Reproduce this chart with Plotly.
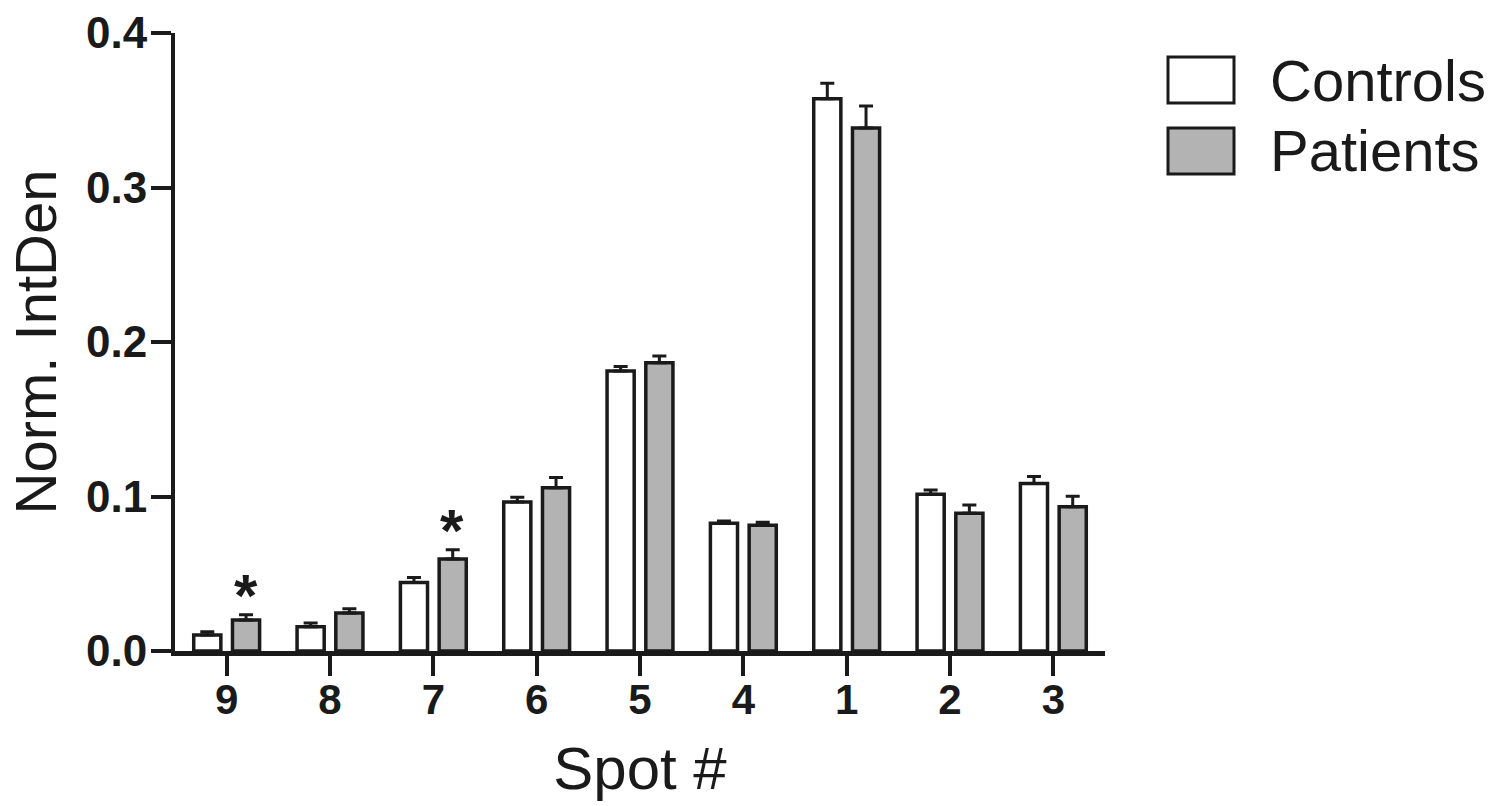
import plotly.graph_objects as go

spots = ["9", "8", "7", "6", "5", "4", "1", "2", "3"]
controls = [0.0103, 0.0157, 0.0444, 0.0965, 0.1812, 0.0827, 0.3575, 0.1015, 0.1084]
controls_err = [0.0022, 0.0024, 0.0032, 0.0030, 0.0030, 0.0015, 0.0100, 0.0027, 0.0045]
patients = [0.0200, 0.0246, 0.0595, 0.1056, 0.1866, 0.0814, 0.3385, 0.0891, 0.0933]
patients_err = [0.0035, 0.0028, 0.0060, 0.0067, 0.0043, 0.0020, 0.0143, 0.0054, 0.0069]
significant = ["9", "7"]
series_names = ["Controls", "Patients"]
y_ticks = [0.0, 0.1, 0.2, 0.3, 0.4]

FONT = "Liberation Sans, Arial, sans-serif"
W, H = 1494, 806
L, R, T, B = 175, 1105, 33, 651
EDGE = "#1a1a1a"
GRAY = "#b3b3b3"

fig = go.Figure()
for name, vals, errs, color in [
    (series_names[0], controls, controls_err, "white"),
    (series_names[1], patients, patients_err, GRAY),
]:
    fig.add_trace(go.Bar(
        x=spots, y=vals, name=name,
        marker=dict(color=color, line=dict(color=EDGE, width=3.5)),
        error_y=dict(type="data", array=errs, arrayminus=[0] * len(errs),
                     symmetric=False, color=EDGE, thickness=3, width=7),
        showlegend=False,
    ))

# significance asterisks above patient bars
for s in significant:
    i = spots.index(s)
    fig.add_annotation(x=i, y=patients[i] + patients_err[i], xref="x", yref="y",
                       text="*", showarrow=False, xshift=19, yanchor="bottom",
                       yshift=-16, font=dict(family=FONT, size=60, color=EDGE, weight="bold"))

# custom legend
def px_x(p):
    return (p - L) / (R - L)

def px_y(p):
    return (B - p) / (B - T)

legend_rows = [(series_names[0], "white", 57, 103), (series_names[1], GRAY, 128, 174)]
for name, color, top, bot in legend_rows:
    fig.add_shape(type="rect", xref="paper", yref="paper",
                  x0=px_x(1168), x1=px_x(1234), y0=px_y(bot), y1=px_y(top),
                  fillcolor=color, line=dict(color=EDGE, width=3))
    fig.add_annotation(xref="paper", yref="paper", x=px_x(1268), y=px_y((top + bot) / 2),
                       text=name, showarrow=False, xanchor="left", yanchor="middle",
                       font=dict(family=FONT, size=58, color=EDGE))

fig.update_layout(
    width=W, height=H,
    margin=dict(l=L, r=W - R, t=T, b=H - B, autoexpand=False),
    paper_bgcolor="white", plot_bgcolor="white",
    barmode="group", bargap=0.25, bargroupgap=0.3,
    font=dict(family=FONT, color=EDGE),
)
fig.update_xaxes(
    type="category", range=[-0.5, 8.5],
    showline=True, linecolor=EDGE, linewidth=5,
    ticks="outside", ticklen=20, tickwidth=4, tickcolor=EDGE,
    ticklabelstandoff=-12,
    tickfont=dict(family=FONT, size=42, color=EDGE, weight="bold"),
    title=dict(text="Spot #", font=dict(family=FONT, size=60, color=EDGE), standoff=26),
    showgrid=False, zeroline=False,
)
fig.update_yaxes(
    range=[0, 0.4], tickvals=y_ticks, tickformat=".1f",
    showline=True, linecolor=EDGE, linewidth=4,
    ticks="outside", ticklen=20, tickwidth=4, tickcolor=EDGE,
    ticklabelstandoff=-5,
    tickfont=dict(family=FONT, size=44, color=EDGE, weight="bold"),
    title=dict(text="Norm. IntDen", font=dict(family=FONT, size=58, color=EDGE), standoff=12),
    showgrid=False, zeroline=False,
)

fig.write_html("out.html")
